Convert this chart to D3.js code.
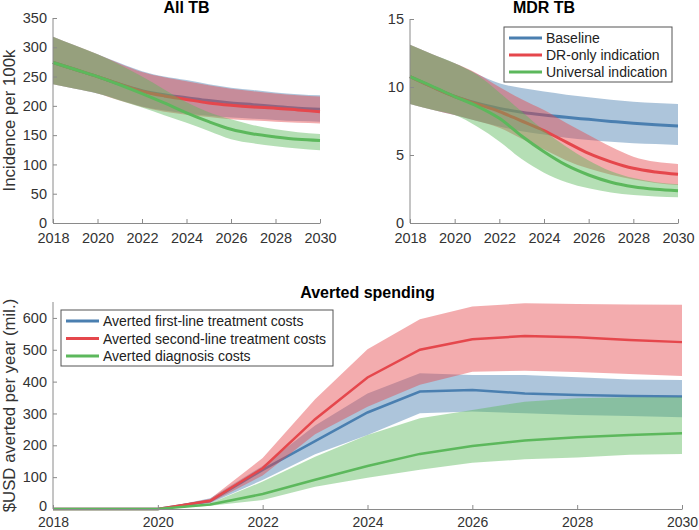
<!DOCTYPE html>
<html><head><meta charset="utf-8">
<script src="https://cdn.jsdelivr.net/npm/d3@7"></script>
<style>
body{margin:0;background:#fff;}
svg{display:block;font-family:"Liberation Sans",Arial,Helvetica,sans-serif;}
</style></head>
<body>
<svg id="chart" width="699" height="530"></svg>
<script>
// ---------- DATA ----------
const years = [2018,2019,2020,2021,2022,2023,2024,2025,2026,2027,2028,2029,2030];
const scenarioNames = ["Baseline","DR-only indication","Universal indication"];
const costNames = ["Averted first-line treatment costs","Averted second-line treatment costs","Averted diagnosis costs"];

// All TB incidence per 100k
const allBaseMid = [274,262,250,237,226,219,214,209,205,202,199,196,194];
const allBaseHi  = [318,303,288,273,259,250,244,237,231,227,223,220,218];
const allBaseLo  = [237,229,221,210,199,192,187,183,180,178,176,174,173];
const allDrMid   = [274,262,250,237,225,217,211,205,201,198,196,193,190];
const allDrHi    = [318,303,288,272,258,249,242,235,229,225,221,218,216];
const allDrLo    = [237,229,221,209,198,190,185,181,177,175,173,171,170];
const allUniMid  = [274,262,250,236,221,205,188,173,160,152,147,143,141];
const allUniHi   = [318,303,288,270,250,228,206,189,177,167,160,155,152];
const allUniLo   = [237,229,221,209,197,184,171,157,143,136,131,127,124];

// MDR TB incidence per 100k
const mdrBaseMid = [10.76,10.0,9.3,8.8,8.43,8.15,7.94,7.77,7.62,7.47,7.33,7.22,7.13];
const mdrBaseHi  = [13.1,12.4,11.74,10.95,10.27,9.92,9.66,9.43,9.24,9.07,8.92,8.82,8.75];
const mdrBaseLo  = [8.75,8.33,7.94,7.5,7.1,6.75,6.5,6.27,6.1,5.97,5.86,5.8,5.74];
const mdrDrMid   = [10.76,10.0,9.3,8.75,8.2,7.5,6.8,5.95,5.12,4.5,4.02,3.75,3.58];
const mdrDrHi    = [13.1,12.4,11.74,11.0,10.0,9.1,8.3,7.35,6.47,5.6,4.88,4.5,4.34];
const mdrDrLo    = [8.75,8.33,7.94,7.5,7.0,6.2,5.4,4.6,4.0,3.55,3.2,2.95,2.8];
const mdrUniMid  = [10.76,10.05,9.3,8.6,7.7,6.4,5.24,4.25,3.53,3.0,2.67,2.48,2.38];
const mdrUniHi   = [13.1,12.4,11.74,10.9,9.6,8.2,6.8,5.6,4.6,3.8,3.3,3.0,2.85];
const mdrUniLo   = [8.75,8.33,7.94,7.1,6.0,4.7,3.7,3.0,2.55,2.25,2.06,1.95,1.9];

// Averted spending ($USD mil. per year)
const firstMid  = [0,0,0,25,123,213,303,369,374,363,358,355,353];
const firstHi   = [0,0,0,34,135,262,363,426,421,421,414,407,405];
const firstLo   = [0,0,0,18,91,172,232,301,306,301,295,292,288];
const secondMid = [0,0,0,26,128,282,413,500,533,543,539,531,524];
const secondHi  = [0,0,0,32,160,345,502,596,636,646,644,642,641];
const secondLo  = [0,0,0,20,105,235,321,390,431,434,430,424,418];
const diagMid   = [0,0,0,14,47,92,135,173,198,215,225,232,238];
const diagHi    = [0,0,0,18,86,164,232,285,311,337,348,351,351];
const diagLo    = [0,0,0,10,28,70,98,123,145,156,162,170,173];

const xTicks = [2018,2020,2022,2024,2026,2028,2030];
const allTicks = [0,50,100,150,200,250,300,350];
const mdrTicks = [0,5,10,15];
const costTicks = [0,100,200,300,400,500,600];

const colors = ["#4a7fb0","#e5474c","#5cb85c"];

// ---------- DRAW ----------
const svg = d3.select("#chart");
const textCol = "#333";
const axisCol = "#8a8a8a";

function panel(opts){
  const g = svg.append("g");
  const x = d3.scaleLinear().domain([2018,2030]).range([opts.x0,opts.x1]);
  const y = d3.scaleLinear().domain(opts.ydom).range([opts.y0,opts.y1]);
  const curve = opts.smooth ? d3.curveMonotoneX : d3.curveLinear;
  opts.series.forEach((s,i)=>{
    const area = d3.area().x((d,j)=>x(years[j])).y0((d,j)=>y(s.lo[j])).y1((d,j)=>y(s.hi[j])).curve(curve);
    g.append("path").attr("d",area(s.mid)).attr("fill",colors[i]).attr("fill-opacity",0.45).attr("stroke","none");
    const line = d3.line().x((d,j)=>x(years[j])).y(d=>y(d)).curve(curve);
    g.append("path").attr("d",line(s.mid)).attr("fill","none").attr("stroke",colors[i]).attr("stroke-width",opts.lw);
  });
  const xa = g.append("g").attr("transform",`translate(0,${opts.y0})`)
    .call(d3.axisBottom(x).tickValues(xTicks).tickFormat(d3.format("d")).tickSizeInner(-4).tickSizeOuter(0).tickPadding(opts.xpad));
  const ya = g.append("g").attr("transform",`translate(${opts.x0},0)`)
    .call(d3.axisLeft(y).tickValues(opts.yticks).tickSizeInner(-4).tickSizeOuter(0).tickPadding(6));
  [xa,ya].forEach(a=>{
    a.select(".domain").attr("stroke",axisCol);
    a.selectAll(".tick line").attr("stroke",axisCol);
    a.selectAll("text").attr("fill",textCol).style("font-size","14.5px").style("font-family","Liberation Sans, Arial, sans-serif");
  });
  if(opts.xfs){ xa.selectAll("text").style("font-size",opts.xfs); }
  if(opts.zeroUp){
    ya.selectAll(".tick").filter(d=>d===0).select("text").attr("dy","0.1em");
  }
  ya.select(".domain").attr("d",`M0,${opts.y0}V${opts.y1}`);
  g.append("text").attr("x",(opts.x0+opts.x1)/2).attr("y",opts.titleY).attr("text-anchor","middle")
    .style("font-weight","bold").style("font-size","16px").attr("fill","#000").text(opts.title);
  if(opts.ylabel){
    g.append("text").attr("transform",`translate(15,${(opts.y0+opts.y1)/2}) rotate(-90)`).attr("text-anchor","middle")
      .style("font-size","16.8px").attr("fill",textCol).text(opts.ylabel);
  }
  if(opts.legend){
    const L = opts.legend;
    const lg = g.append("g");
    lg.append("rect").attr("x",L.x).attr("y",L.y).attr("width",L.w).attr("height",L.h)
      .attr("fill","#fff").attr("stroke","#555").attr("stroke-width",1);
    L.names.forEach((n,i)=>{
      const yy = L.y + L.first + i*L.step;
      lg.append("line").attr("x1",L.x+5).attr("x2",L.x+38).attr("y1",yy).attr("y2",yy)
        .attr("stroke",colors[i]).attr("stroke-width",3);
      lg.append("text").attr("x",L.x+42).attr("y",yy+5).style("font-size","14px").attr("fill","#222").text(n);
    });
  }
}

panel({x0:53,x1:320,y0:223,y1:18,ydom:[0,350],yticks:allTicks,smooth:true,lw:3,xpad:10,titleY:13,
  title:"All TB",ylabel:"Incidence per 100k",
  series:[{mid:allBaseMid,hi:allBaseHi,lo:allBaseLo},{mid:allDrMid,hi:allDrHi,lo:allDrLo},{mid:allUniMid,hi:allUniHi,lo:allUniLo}]});

panel({x0:410,x1:678,y0:223,y1:19,ydom:[0,15],yticks:mdrTicks,smooth:true,lw:3,xpad:10,titleY:13,
  title:"MDR TB",
  legend:{x:504,y:27,w:168,h:55,first:11,step:17,names:scenarioNames},
  series:[{mid:mdrBaseMid,hi:mdrBaseHi,lo:mdrBaseLo},{mid:mdrDrMid,hi:mdrDrHi,lo:mdrDrLo},{mid:mdrUniMid,hi:mdrUniHi,lo:mdrUniLo}]});

panel({x0:53,x1:682,y0:509,y1:302,ydom:[0,650],yticks:costTicks,smooth:false,lw:2.5,xpad:8,xfs:"14px",titleY:298,zeroUp:true,
  title:"Averted spending",ylabel:"$USD averted per year (mil.)",
  legend:{x:61,y:310,w:272,h:56,first:11,step:17.5,names:costNames},
  series:[{mid:firstMid,hi:firstHi,lo:firstLo},{mid:secondMid,hi:secondHi,lo:secondLo},{mid:diagMid,hi:diagHi,lo:diagLo}]});
</script>
</body></html>
